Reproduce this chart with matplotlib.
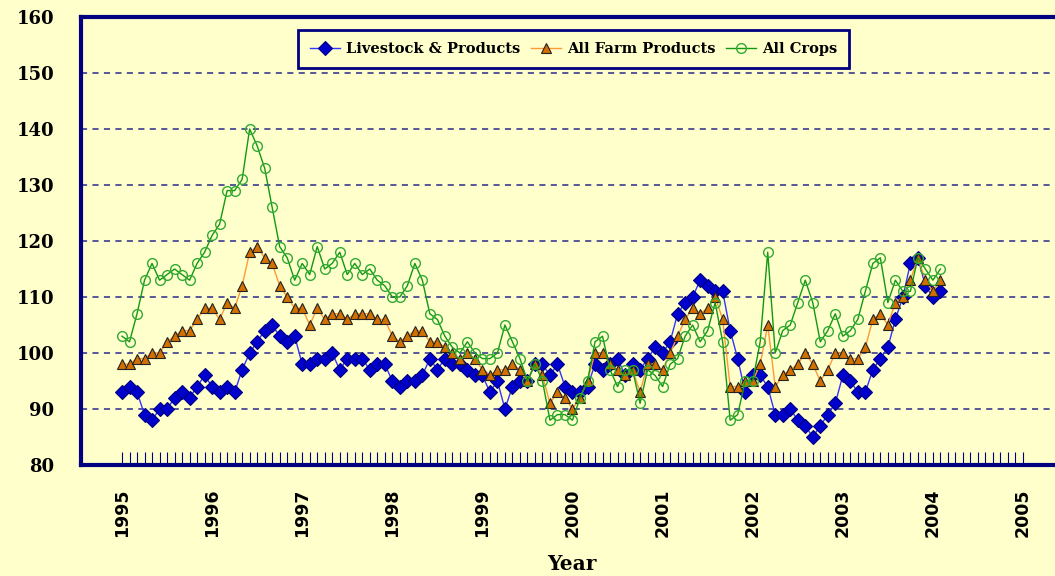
import matplotlib
matplotlib.use("Agg")
import matplotlib.pyplot as plt
import numpy as np

# monthly index values, Jan 1995 .. Feb 2004
livestock = [93, 94, 93, 89, 88, 90, 90, 92, 93, 92, 94, 96,
             94, 93, 94, 93, 97, 100, 102, 104, 105, 103, 102, 103,
             98, 98, 99, 99, 100, 97, 99, 99, 99, 97, 98, 98,
             95, 94, 95, 95, 96, 99, 97, 99, 98, 98, 97, 96,
             96, 93, 95, 90, 94, 95, 95, 98, 98, 96, 98, 94,
             93, 93, 94, 98, 97, 98, 99, 96, 98, 97, 99, 101,
             100, 102, 107, 109, 110, 113, 112, 111, 111, 104, 99, 93,
             96, 96, 94, 89, 89, 90, 88, 87, 85, 87, 89, 91,
             96, 95, 93, 93, 97, 99, 101, 106, 110, 116, 117, 112,
             110, 111]
farm = [98, 98, 99, 99, 100, 100, 102, 103, 104, 104, 106, 108,
        108, 106, 109, 108, 112, 118, 119, 117, 116, 112, 110, 108,
        108, 105, 108, 106, 107, 107, 106, 107, 107, 107, 106, 106,
        103, 102, 103, 104, 104, 102, 102, 101, 100, 99, 100, 99,
        97, 96, 97, 97, 98, 97, 95, 98, 96, 91, 93, 92,
        90, 92, 95, 100, 100, 98, 97, 96, 97, 93, 98, 98,
        97, 100, 103, 106, 108, 107, 108, 110, 106, 94, 94, 95,
        95, 98, 105, 94, 96, 97, 98, 100, 98, 95, 97, 100,
        100, 99, 99, 101, 106, 107, 105, 109, 110, 113, 117, 113,
        111, 113]
crops = [103, 102, 107, 113, 116, 113, 114, 115, 114, 113, 116, 118,
         121, 123, 129, 129, 131, 140, 137, 133, 126, 119, 117, 113,
         116, 114, 119, 115, 116, 118, 114, 116, 114, 115, 113, 112,
         110, 110, 112, 116, 113, 107, 106, 103, 101, 100, 102, 100,
         99, 99, 100, 105, 102, 99, 95, 98, 95, 88, 89, 89,
         88, 92, 95, 102, 103, 97, 94, 97, 97, 91, 97, 96,
         94, 98, 99, 103, 105, 102, 104, 109, 102, 88, 89, 95,
         95, 102, 118, 100, 104, 105, 109, 113, 109, 102, 104, 107,
         103, 104, 106, 111, 116, 117, 109, 113, 111, 111, 117, 115,
         113, 115]
years = list(range(1995, 2006))

BG = "#FFFFCC"
NAVY = "#000080"

plt.rcParams["font.family"] = "DejaVu Serif"

x = 1995 + np.arange(len(livestock)) / 12.0

fig = plt.figure(figsize=(10.55, 5.76), dpi=100, facecolor=BG)
ax = fig.add_axes([81 / 1055, 111 / 576, 981 / 1055, 448 / 576])
ax.set_facecolor(BG)

ax.plot(x, livestock, color="#3333FF", linewidth=1.0, marker="D", markersize=7,
        markerfacecolor="#0000CC", markeredgecolor="#000080", markeredgewidth=0.8,
        label="Livestock & Products")
ax.plot(x, farm, color="#FF9933", linewidth=1.0, marker="^", markersize=7.5,
        markerfacecolor="#D27000", markeredgecolor="#222222", markeredgewidth=0.8,
        label="All Farm Products")
ax.plot(x, crops, color="#119911", linewidth=1.0, marker="o", markersize=7,
        markerfacecolor="none", markeredgecolor="#33AA33", markeredgewidth=1.0,
        label="All Crops")

ax.set_xlim(1995 - 41 / 90.1, 1995 + 940 / 90.1)
ax.set_ylim(80, 160)
ax.set_yticks(range(80, 161, 10))
ax.set_xticks(years)
ax.set_xticks(1995 + np.arange(121) / 12.0, minor=True)
ax.set_xticklabels([str(y) for y in years], rotation=90, fontsize=12.5,
                   fontweight="bold", family="DejaVu Sans")
for lab in ax.get_yticklabels():
    lab.set_fontsize(13)
    lab.set_fontweight("bold")

ax.tick_params(axis="x", which="both", direction="in", length=9.5, width=0.8,
               color=NAVY, pad=17)
ax.tick_params(axis="y", length=0, pad=19)
ax.yaxis.grid(True, color="#2a2a8a", linestyle=(0, (4, 3.5)), linewidth=1.1)
ax.set_axisbelow(True)

for s in ax.spines.values():
    s.set_color(NAVY)
    s.set_linewidth(3)

ax.set_xlabel("Year", fontsize=14.5, fontweight="bold", labelpad=12)

leg = ax.legend(loc="center", bbox_to_anchor=(573.5 / 1055, 1 - 49 / 576),
                bbox_transform=fig.transFigure, ncol=3, numpoints=1,
                fancybox=False, facecolor=BG, edgecolor=NAVY, framealpha=1,
                handlelength=2.1, handletextpad=0.4, columnspacing=0.7,
                borderpad=0.8, prop={"size": 10.5, "weight": "bold"})
leg.get_frame().set_linewidth(2)

fig.savefig("out.png", dpi=100, facecolor=BG)
